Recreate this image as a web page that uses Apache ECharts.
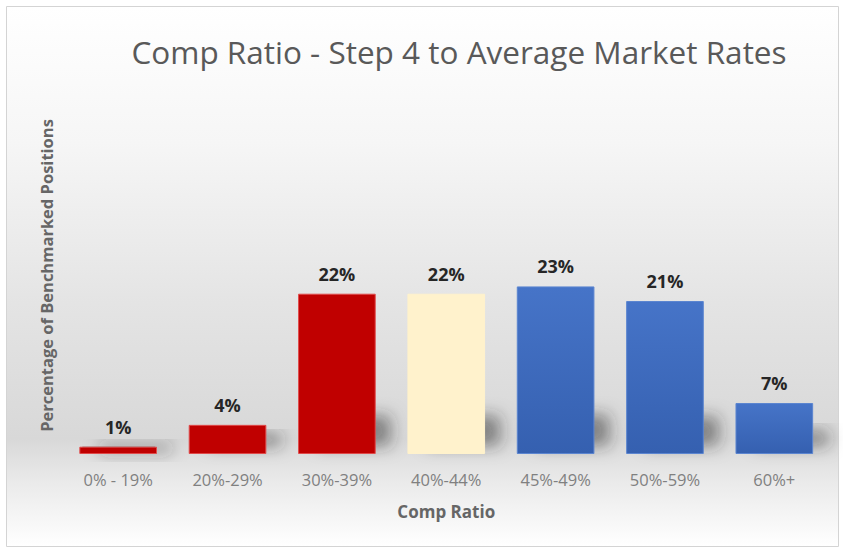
<!DOCTYPE html>
<html>
<head>
<meta charset="utf-8">
<script src="https://cdn.jsdelivr.net/npm/echarts@6/dist/echarts.min.js"></script>
<style>
  html, body { margin: 0; padding: 0; background: #ffffff; }
  #chart { width: 843px; height: 548px; }
</style>
</head>
<body>
<div id="chart"></div>
<script>
// Comp ratio bands and share of benchmarked positions (%)
const categories = ['0% - 19%', '20%-29%', '30%-39%', '40%-44%', '45%-49%', '50%-59%', '60%+'];
const shares = [1, 4, 22, 22, 23, 21, 7];
// Band colour groups: below range, target band, above range
const bandGroup = ['low', 'low', 'low', 'mid', 'high', 'high', 'high'];

const titleText = 'Comp Ratio - Step 4 to Average Market Rates';
const xName = 'Comp Ratio';
const yName = 'Percentage of Benchmarked Positions';

const groupStyle = {
  low: { color: '#c00000', borderColor: '#e04a4a' },
  mid: { color: '#fff2cc', borderColor: '#fff2cc' },
  high: {
    color: new echarts.graphic.LinearGradient(0, 0, 0, 1, [
      { offset: 0, color: '#4674c8' },
      { offset: 1, color: '#3560b0' }
    ]),
    borderColor: '#5b85d0'
  }
};

const barData = shares.map((v, i) => ({
  value: v,
  itemStyle: {
    color: groupStyle[bandGroup[i]].color,
    borderColor: groupStyle[bandGroup[i]].borderColor,
    borderWidth: 1
  }
}));

const chart = echarts.init(document.getElementById('chart'), null, { renderer: 'svg' });

chart.setOption({
  animation: false,
  backgroundColor: 'transparent',
  graphic: [{
    type: 'rect',
    z: -10,
    silent: true,
    shape: { x: 6.5, y: 6.5, width: 832, height: 540 },
    style: {
      fill: new echarts.graphic.LinearGradient(0, 0, 0, 1, [
        { offset: 0, color: '#ffffff' },
        { offset: 0.25, color: '#f6f6f6' },
        { offset: 0.55, color: '#e4e4e4' },
        { offset: 0.8, color: '#d8d8d8' },
        { offset: 0.88, color: '#eaeaea' },
        { offset: 1, color: '#ffffff' }
      ]),
      stroke: '#d4d4d4',
      lineWidth: 1
    }
  }],
  title: {
    text: titleText,
    left: 454,
    top: 30,
    textAlign: 'center',
    textStyle: {
      fontFamily: 'Open Sans',
      fontSize: 31.5,
      fontWeight: 'normal',
      color: '#595959'
    }
  },
  grid: { left: 63.5, right: 14, top: 97, bottom: 94, containLabel: false },
  xAxis: {
    type: 'category',
    data: categories,
    name: xName,
    nameLocation: 'middle',
    nameGap: 49,
    nameTextStyle: {
      fontFamily: 'Open Sans',
      fontSize: 17,
      fontWeight: 'bold',
      color: '#666666'
    },
    axisLine: { show: false },
    axisTick: { show: false },
    axisLabel: {
      margin: 17,
      fontFamily: 'Open Sans',
      fontSize: 16.5,
      color: '#808080'
    }
  },
  yAxis: {
    type: 'value',
    min: 0,
    max: 49,
    name: yName,
    nameLocation: 'middle',
    nameGap: 9,
    nameTextStyle: {
      fontFamily: 'Open Sans',
      fontSize: 16.5,
      fontWeight: 'bold',
      color: '#666666'
    },
    axisLine: { show: false },
    axisTick: { show: false },
    axisLabel: { show: false },
    splitLine: { show: false }
  },
  series: [
    {
      // soft floor shadow: a block hidden behind the foot of each bar
      // whose blurred drop shadow spills out to the right
      type: 'custom',
      z: 1,
      silent: true,
      data: shares,
      renderItem: function (params, api) {
        const i = params.dataIndex;
        const base = api.coord([i, 0]);
        const top = api.coord([i, api.value(0)]);
        const barH = base[1] - top[1];
        const w = api.size([1, 0])[0] * 0.71;
        const x0 = base[0] - w / 2 + 3;
        const x1 = base[0] + w / 2 - 2;
        const h = Math.min(barH, 8 + barH * 0.14);
        return {
          type: 'rect',
          shape: { x: x0, y: base[1] - h, width: x1 - x0, height: h },
          style: {
            fill: 'rgba(90,90,90,1)',
            shadowBlur: 16,
            shadowOffsetX: 17,
            shadowOffsetY: -Math.min(8, barH * 0.3),
            shadowColor: 'rgba(40,40,40,0.5)'
          }
        };
      },
      encode: { x: -1, y: 0 }
    },
    {
      type: 'bar',
      z: 2,
      data: barData,
      barWidth: '71%',
      label: {
        show: true,
        position: 'top',
        distance: 11,
        formatter: '{c}%',
        fontFamily: 'Open Sans',
        fontSize: 18,
        fontWeight: 'bold',
        color: '#262626'
      }
    }
  ]
});
</script>
</body>
</html>
